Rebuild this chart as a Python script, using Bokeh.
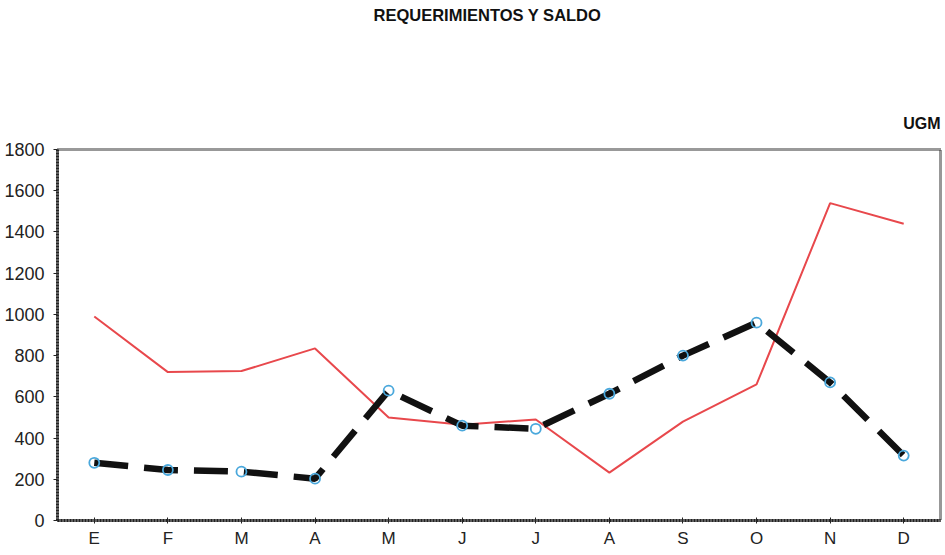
from bokeh.plotting import figure
from bokeh.models import Range1d, FixedTicker, Title
from bokeh.embed import file_html
from bokeh.resources import INLINE

months = ["E", "F", "M", "A", "M", "J", "J", "A", "S", "O", "N", "D"]
requerimientos = [990, 720, 725, 835, 500, 465, 490, 232, 480, 660, 1540, 1440]
saldo = [280, 245, 237, 203, 630, 460, 445, 615, 800, 960, 670, 315]
y_ticks = [0, 200, 400, 600, 800, 1000, 1200, 1400, 1600, 1800]
title_text = "REQUERIMIENTOS Y SALDO"
unit_text = "UGM"

xs = list(range(len(months)))

p = figure(width=945, height=555, output_backend="svg", toolbar_location=None,
           x_range=Range1d(-0.5, len(months) - 0.5), y_range=Range1d(0, 1800),
           min_border_left=57, min_border_right=5, min_border_top=148,
           min_border_bottom=35)
p.title.text = ""

p.xgrid.grid_line_color = None
p.ygrid.grid_line_color = None
p.background_fill_color = "white"
p.border_fill_color = "white"

p.outline_line_color = "#333333"
p.outline_line_width = 3
p.outline_line_dash = "1 1"

font = "Liberation Sans"
for ax in (p.xaxis[0], p.yaxis[0]):
    ax.axis_line_color = "#222222"
    ax.axis_line_width = 3
    ax.axis_line_dash = "2 1"
    ax.major_label_text_font = font
    ax.major_label_text_color = "#222222"
    ax.major_tick_line_color = "#222222"
    ax.minor_tick_line_color = None

p.yaxis[0].ticker = FixedTicker(ticks=y_ticks)
p.yaxis[0].major_label_text_font_size = "18px"
p.yaxis[0].major_tick_out = 4
p.yaxis[0].major_tick_in = 0
p.yaxis[0].major_label_standoff = 9

p.xaxis[0].ticker = FixedTicker(ticks=xs)
p.xaxis[0].major_label_overrides = {i: m for i, m in enumerate(months)}
p.xaxis[0].major_label_text_font_size = "17px"
p.xaxis[0].major_tick_out = 3
p.xaxis[0].major_tick_in = 3
p.xaxis[0].major_label_standoff = 5

p.line(xs, requerimientos, line_color="#e8484c", line_width=2)
p.line(xs, saldo, line_color="#111111", line_width=6.5, line_dash="34 16")
p.scatter(xs, saldo, size=10, fill_color=None, line_color="#4aa8dc", line_width=1.8)

# unit label, just above the frame on the right
p.add_layout(Title(text=unit_text, text_font=font, text_font_style="bold",
                   text_font_size="16px", align="right", vertical_align="middle",
                   standoff=34, text_color="#111111"), "above")
# main title at the top of the canvas (blank lines reserve the empty band)
p.add_layout(Title(text=title_text + "\n\n\n\n", text_font=font, text_font_style="bold",
                   text_font_size="16.5px", align="left", vertical_align="top",
                   text_line_height=0.91, standoff=10, offset=316,
                   text_color="#111111"), "above")

open("out.html", "w").write(file_html(p, INLINE))
